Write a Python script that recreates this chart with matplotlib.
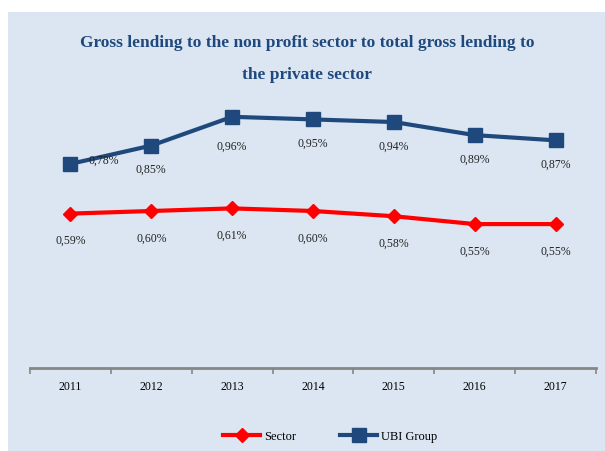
import matplotlib
matplotlib.use("Agg")
import matplotlib.pyplot as plt
from matplotlib.patches import Rectangle

years = ["2011", "2012", "2013", "2014", "2015", "2016", "2017"]
sector = [0.59, 0.60, 0.61, 0.60, 0.58, 0.55, 0.55]
ubi_group = [0.78, 0.85, 0.96, 0.95, 0.94, 0.89, 0.87]

plt.rcParams['font.family'] = ['Liberation Serif', 'DejaVu Serif']

bg = "#dce6f2"
navy = "#1f497d"

fig = plt.figure(figsize=(6.05, 4.52), dpi=100, facecolor="white")
# light blue chart panel, leaving a thin white margin top and left
fig.patches.append(Rectangle((8 / 605, 0), 1, (452 - 13) / 452,
                             transform=fig.transFigure, facecolor=bg,
                             edgecolor="none", zorder=-5))

ax = fig.add_axes([30 / 605, (452 - 369) / 452, 566 / 605, 314 / 452])
ax.set_facecolor("none")

x = list(range(len(years)))
ax.plot(x, sector, color="#ff0000", lw=3, marker="D", ms=7,
        label="Sector", zorder=3)
ax.plot(x, ubi_group, color=navy, lw=3, marker="s", ms=9.5,
        label="UBI Group", zorder=3)

def fmt(v):
    return f"{v:.2f}".replace(".", ",") + "%"

for i, v in enumerate(sector):
    ax.annotate(fmt(v), (i, v), xytext=(0, -19), textcoords="offset points",
                ha="center", va="center", fontsize=8.5, color="#222222")

for i, v in enumerate(ubi_group):
    if i == 0:
        off = (24, 3)
    elif i == 2:
        off = (0, -21)
    else:
        off = (0, -17)
    ax.annotate(fmt(v), (i, v), xytext=off, textcoords="offset points",
                ha="center", va="center", fontsize=8.5, color="#222222")

ax.set_xlim(-0.5, len(years) - 0.5)
ax.set_ylim(0, 1.2)
ax.set_yticks([])
ax.set_xticks([i - 0.5 for i in range(len(years) + 1)])
ax.set_xticklabels([])
ax.set_xticks(x, minor=True)
ax.set_xticklabels(years, minor=True, fontsize=8.5)
ax.tick_params(axis="x", which="major", length=4, width=1.2, color="#868686",
               direction="out")
ax.tick_params(axis="x", which="minor", length=0, pad=9)
for s in ["top", "right", "left"]:
    ax.spines[s].set_visible(False)
ax.spines["bottom"].set_color("#868686")
ax.spines["bottom"].set_linewidth(2)

fig.text(307 / 605, 1 - 43 / 452,
         "Gross lending to the non profit sector to total gross lending to",
         ha="center", va="center", fontsize=12.5, fontweight="bold", color=navy)
fig.text(307 / 605, 1 - 75 / 452, "the private sector",
         ha="center", va="center", fontsize=12.5, fontweight="bold", color=navy)

fig.legend(loc="center", bbox_to_anchor=(330 / 605, 1 - 437 / 452), ncol=2,
           frameon=False, fontsize=9, handlelength=3, columnspacing=3.5,
           handletextpad=0.3)

fig.savefig("out.png", dpi=100)
